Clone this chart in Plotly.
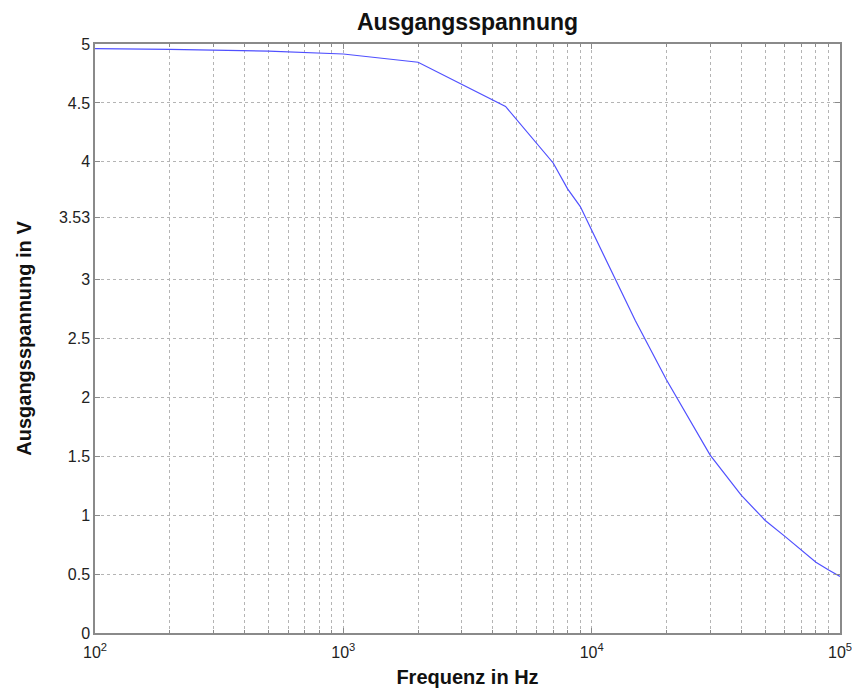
import plotly.graph_objects as go

freq = [100, 200, 500, 1000, 2000, 4500, 7000, 8000, 9000, 10000, 15000, 20000,
        30000, 40000, 50000, 60000, 70000, 80000, 90000, 100000]
volt = [4.96, 4.955, 4.94, 4.915, 4.845, 4.47, 3.99, 3.77, 3.62, 3.42, 2.65, 2.15,
        1.51, 1.17, 0.955, 0.82, 0.70, 0.60, 0.535, 0.48]

x_major = [100, 1000, 10000, 100000]
x_major_text = ["10<sup>2</sup>", "10<sup>3</sup>", "10<sup>4</sup>", "10<sup>5</sup>"]
x_minor = [m * d for d in (100, 1000, 10000) for m in range(2, 10)]
y_ticks = [0, 0.5, 1, 1.5, 2, 2.5, 3, 3.53, 4, 4.5, 5]
y_text = ["0", "0.5", "1", "1.5", "2", "2.5", "3", "3.53", "4", "4.5", "5"]

font = "Liberation Sans, Arial, sans-serif"
axis_col = "#8a8a8a"
grid_col = "#b4b4b4"

fig = go.Figure(go.Scatter(x=freq, y=volt, mode="lines",
                           line=dict(color="rgb(80,80,255)", width=1.2),
                           showlegend=False))

fig.update_layout(
    width=852, height=688,
    margin=dict(l=95, r=12, t=44, b=55, autoexpand=False),
    paper_bgcolor="white", plot_bgcolor="white",
    font=dict(family=font, size=16, color="#222"),
    title=dict(text="<b>Ausgangsspannung</b>", x=0.5, xanchor="center",
               xref="paper", yref="container", y=1 - 22 / 688, yanchor="middle",
               font=dict(family=font, size=23, color="#111")),
)

fig.update_xaxes(
    type="log", range=[2, 5], automargin=False,
    tickvals=x_major, ticktext=x_major_text, ticklabeloverflow="allow",
    ticklabelstandoff=4,
    ticks="inside", ticklen=5, tickcolor=axis_col,
    showline=True, linecolor=axis_col, linewidth=1.5, mirror="ticks",
    showgrid=True, gridcolor=grid_col, griddash="dot", gridwidth=1,
    zeroline=False,
    minor=dict(tickvals=x_minor, ticks="inside", ticklen=3, tickcolor=axis_col,
               showgrid=True, gridcolor=grid_col, griddash="dot", gridwidth=1),
    title=dict(text="<b>Frequenz in Hz</b>", font=dict(family=font, size=20, color="#111"),
               standoff=10),
    tickfont=dict(family=font, size=16, color="#222"),
)

fig.update_yaxes(
    range=[0, 5], automargin=False,
    tickvals=y_ticks, ticktext=y_text,
    ticks="inside", ticklen=5, tickcolor=axis_col,
    showline=True, linecolor=axis_col, linewidth=1.5, mirror="ticks",
    showgrid=True, gridcolor=grid_col, griddash="dot", gridwidth=1,
    zeroline=False,
    title=dict(text="<b>Ausgangsspannung in V</b>", font=dict(family=font, size=20, color="#111"),
               standoff=22),
    tickfont=dict(family=font, size=16, color="#222"),
)

fig.write_html("out.html")
